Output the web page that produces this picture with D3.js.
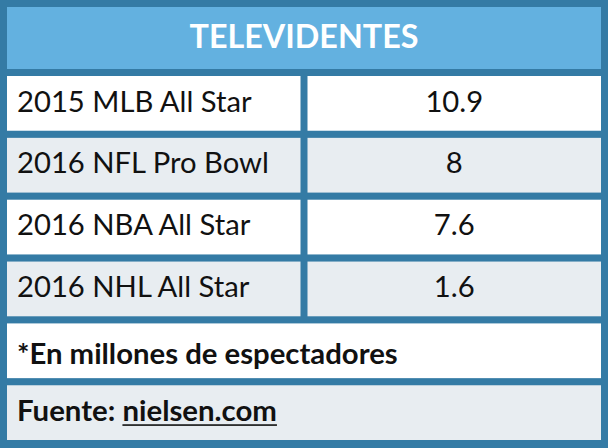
<!DOCTYPE html>
<html>
<head>
<meta charset="utf-8">
<script src="https://cdn.jsdelivr.net/npm/d3@7/dist/d3.min.js"></script>
<style>
  html, body { margin: 0; padding: 0; background: #ffffff; }
  svg { display: block; }
  text { font-family: Lato, "Open Sans", sans-serif; }
</style>
</head>
<body>
<svg id="chart" width="608" height="448"></svg>
<script>
// ---- data ----
const title = "TELEVIDENTES";
const categories = ["2015 MLB All Star", "2016 NFL Pro Bowl", "2016 NBA All Star", "2016 NHL All Star"];
const values = [10.9, 8, 7.6, 1.6];
const note = "*En millones de espectadores";
const sourceLabel = "Fuente: ";
const sourceLink = "nielsen.com";

// ---- layout ----
const W = 608, H = 448;
const colors = { border: "#347ba5", header: "#63b1e0", white: "#ffffff", gray: "#e8edf1", text: "#111111" };

const svg = d3.select("#chart");
svg.append("rect").attr("x", 0).attr("y", 0).attr("width", W).attr("height", H).attr("fill", colors.border);

// header
const headerTop = 7, headerBottom = 69;
svg.append("rect").attr("x", 7).attr("y", headerTop).attr("width", W - 14).attr("height", headerBottom - headerTop)
  .attr("fill", colors.header);

// row scale (4 data rows + note + source)
const rowKeys = categories.map((c, i) => "r" + i).concat(["note", "source"]);
const y = d3.scaleBand().domain(rowKeys).range([76, 440]).paddingInner(0.115).paddingOuter(0);
const x = d3.scaleBand().domain(["label", "value"]).range([7, 601]).paddingInner(0.0233).paddingOuter(0);

// helper to fit font size to a target width
const measurer = svg.append("text").attr("x", -1000).attr("y", -1000).style("font-size", "100px");
function fitSize(str, weight, target) {
  measurer.style("font-weight", weight).text(str);
  const w = measurer.node().getComputedTextLength();
  return 100 * target / w;
}
const dataSize = fitSize("2016 NFL Pro Bowl", 400, 252);
const titleSize = fitSize(title, 700, 229);
const noteSize = fitSize(note, 700, 381);
const sourceSize = fitSize(sourceLabel + sourceLink, 700, 260);
measurer.remove();

// title
svg.append("text")
  .attr("x", W / 2).attr("y", headerTop + 41)
  .attr("text-anchor", "middle")
  .style("font-weight", 700).style("font-size", titleSize + "px")
  .attr("fill", "#ffffff")
  .text(title);

// data rows
const rows = categories.map((c, i) => ({ key: "r" + i, label: c, value: values[i], fill: i % 2 === 0 ? colors.white : colors.gray }));
const fmt = d => String(d);

const g = svg.append("g");
rows.forEach(r => {
  g.append("rect").attr("x", x("label")).attr("y", y(r.key)).attr("width", x.bandwidth()).attr("height", y.bandwidth()).attr("fill", r.fill);
  g.append("rect").attr("x", x("value")).attr("y", y(r.key)).attr("width", x.bandwidth()).attr("height", y.bandwidth()).attr("fill", r.fill);
  g.append("text").attr("x", x("label") + 10).attr("y", y(r.key) + 35.5)
    .style("font-size", dataSize + "px").attr("fill", colors.text).text(r.label);
  g.append("text").attr("x", x("value") + x.bandwidth() / 2).attr("y", y(r.key) + 35.5)
    .attr("text-anchor", "middle")
    .style("font-size", dataSize + "px").attr("fill", colors.text).text(fmt(r.value));
});

// note row
svg.append("rect").attr("x", 7).attr("y", y("note")).attr("width", W - 14).attr("height", y.bandwidth()).attr("fill", colors.white);
svg.append("text").attr("x", 17).attr("y", y("note") + 40.5)
  .style("font-weight", 700).style("font-size", noteSize + "px").attr("fill", colors.text).text(note);

// source row
svg.append("rect").attr("x", 7).attr("y", y("source")).attr("width", W - 14).attr("height", y.bandwidth()).attr("fill", colors.gray);
const src = svg.append("text").attr("x", 17).attr("y", y("source") + 35.5)
  .style("font-weight", 700).style("font-size", sourceSize + "px").attr("fill", colors.text);
src.append("tspan").text(sourceLabel);
src.append("tspan").text(sourceLink);
const node = src.node();
const startX = 17 + node.getSubStringLength(0, sourceLabel.length);
const linkW = node.getSubStringLength(sourceLabel.length, sourceLink.length);
svg.append("rect").attr("x", startX).attr("y", y("source") + 39).attr("width", linkW).attr("height", 1.6).attr("fill", colors.text);
</script>
</body>
</html>
